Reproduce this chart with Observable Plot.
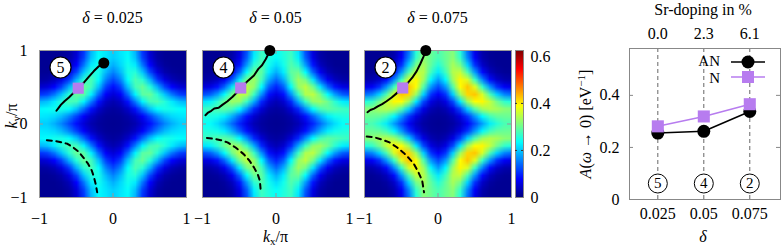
<!DOCTYPE html>
<html><head><meta charset="utf-8">
<script src="https://cdn.jsdelivr.net/npm/d3@7"></script>
<script src="https://cdn.jsdelivr.net/npm/@observablehq/plot@0.6"></script>
<style>
body{margin:0;background:#fff;}
#root{position:relative;width:782px;height:250px;overflow:hidden;font-family:"Liberation Serif",serif;font-size:16px;color:#000;background:#fff;}
#root svg{position:absolute;}
.lbl{position:absolute;transform:translate(-50%,-50%);white-space:nowrap;line-height:1;}
.rot{transform:translate(-50%,-50%) rotate(-90deg);}
sub{font-size:11px;vertical-align:-3px;line-height:0;}
sup{font-size:11px;vertical-align:6px;line-height:0;}
</style></head><body><div id="root"></div>
<script>
// ---------- data ----------
const deltas = [0.025, 0.05, 0.075];
const deltaLabels = ["0.025", "0.05", "0.075"];
const srDoping = ["0.0", "2.3", "6.1"];
const aAN = [0.255, 0.262, 0.338];
const aN = [0.281, 0.319, 0.366];
const circled = [5, 4, 2];
const kTicks = [-1, 0, 1];
const cbTicks = [0, 0.2, 0.4, 0.6];
const aTicks = [0, 0.2, 0.4];
const innerTick = [0];

// spectral weight A(k, w->0) read on the quadrant |kx|,|ky| = 0, 0.1, ..., 1 (rows |ky|, cols |kx|)
const quad025 = [
 [.012,.014,.018,.030,.053,.085,.121,.157,.185,.204,.204],
 [.014,.016,.025,.044,.075,.117,.159,.191,.211,.218,.221],
 [.018,.025,.046,.087,.143,.198,.235,.248,.244,.236,.231],
 [.030,.044,.087,.156,.228,.274,.281,.257,.222,.196,.187],
 [.053,.075,.143,.228,.289,.297,.258,.200,.150,.118,.108],
 [.085,.117,.198,.274,.297,.257,.186,.121,.078,.055,.048],
 [.121,.159,.235,.281,.258,.186,.111,.061,.035,.024,.021],
 [.157,.191,.248,.257,.200,.121,.061,.030,.018,.014,.014],
 [.185,.211,.244,.222,.150,.078,.035,.018,.013,.012,.012],
 [.204,.218,.236,.196,.118,.055,.024,.014,.012,.012,.012],
 [.204,.221,.231,.187,.108,.048,.021,.014,.012,.012,.012]
];
const quad05 = [
 [.012,.014,.020,.033,.060,.098,.141,.183,.214,.236,.236],
 [.014,.017,.027,.050,.087,.136,.185,.223,.245,.252,.256],
 [.020,.027,.053,.101,.167,.233,.276,.291,.284,.274,.268],
 [.033,.050,.101,.183,.269,.324,.331,.301,.259,.226,.216],
 [.060,.087,.167,.269,.341,.351,.304,.235,.174,.136,.124],
 [.098,.136,.233,.324,.351,.304,.219,.141,.089,.062,.054],
 [.141,.185,.276,.331,.304,.219,.130,.070,.039,.026,.023],
 [.183,.223,.291,.301,.235,.141,.070,.034,.020,.015,.014],
 [.214,.245,.284,.259,.174,.089,.039,.020,.013,.012,.012],
 [.236,.252,.274,.226,.136,.062,.026,.015,.012,.012,.012],
 [.236,.256,.268,.216,.124,.054,.023,.014,.012,.012,.012]
];
const quad075 = [
 [.012,.015,.022,.040,.074,.122,.173,.222,.256,.279,.278],
 [.015,.018,.032,.061,.109,.171,.230,.273,.294,.298,.301],
 [.022,.032,.062,.122,.205,.285,.332,.345,.336,.320,.315],
 [.040,.061,.122,.222,.330,.390,.395,.355,.305,.265,.253],
 [.074,.109,.205,.330,.415,.425,.367,.283,.207,.160,.145],
 [.122,.171,.285,.390,.425,.370,.268,.172,.107,.073,.062],
 [.173,.230,.332,.395,.367,.268,.160,.085,.046,.029,.025],
 [.222,.273,.345,.355,.283,.172,.085,.040,.022,.015,.014],
 [.256,.294,.336,.305,.207,.107,.046,.022,.014,.012,.012],
 [.279,.298,.320,.265,.160,.073,.029,.015,.012,.012,.012],
 [.278,.301,.315,.253,.145,.062,.025,.014,.012,.012,.012]
];

// solid cut lines [kx, ky]
const cut025 = [[-0.77,0.18],[-0.74,0.22],[-0.71,0.26],[-0.66,0.31],[-0.60,0.36],[-0.53,0.43],[-0.47,0.49],[-0.40,0.56],[-0.33,0.64],[-0.26,0.72],[-0.20,0.78],[-0.15,0.81],[-0.125,0.83]];
const cut05 = [[-0.96,0.12],[-0.93,0.15],[-0.88,0.18],[-0.84,0.21],[-0.78,0.22],[-0.73,0.26],[-0.66,0.31],[-0.59,0.37],[-0.52,0.44],[-0.45,0.52],[-0.38,0.59],[-0.30,0.66],[-0.24,0.75],[-0.19,0.80],[-0.14,0.88],[-0.11,0.94],[-0.084,1.0]];
const cut075 = [[-0.96,0.16],[-0.92,0.19],[-0.87,0.21],[-0.82,0.24],[-0.76,0.27],[-0.70,0.31],[-0.63,0.36],[-0.56,0.42],[-0.48,0.49],[-0.41,0.56],[-0.35,0.63],[-0.29,0.72],[-0.24,0.82],[-0.20,0.91],[-0.166,1.0]];
// dashed arcs [kx, ky]
const arc025 = [[-0.90,-0.22],[-0.80,-0.23],[-0.70,-0.25],[-0.62,-0.27],[-0.54,-0.32],[-0.465,-0.38],[-0.40,-0.46],[-0.34,-0.54],[-0.29,-0.63],[-0.26,-0.72],[-0.235,-0.82],[-0.215,-0.93]];
const arc05 = [[-0.94,-0.19],[-0.85,-0.20],[-0.75,-0.22],[-0.66,-0.25],[-0.55,-0.32],[-0.44,-0.41],[-0.36,-0.50],[-0.30,-0.59],[-0.25,-0.68],[-0.22,-0.77],[-0.21,-0.88]];
const arc075 = [[-0.97,-0.17],[-0.87,-0.18],[-0.77,-0.21],[-0.66,-0.25],[-0.555,-0.32],[-0.47,-0.39],[-0.40,-0.46],[-0.33,-0.54],[-0.27,-0.65],[-0.215,-0.77],[-0.19,-0.93]];
// antinode (dot) and node (square) points [kx, ky]
const antinodes = [[-0.125,0.83],[-0.084,1.0],[-0.166,1.0]];
const nodes = [[-0.473,0.487],[-0.48,0.49],[-0.48,0.49]];

// ---------- styles ----------
const purple = "#b77cef";
const colorScale = {type:"linear", domain:[0,0.078,0.234,0.391,0.547,0.625],
  range:["#00007f","#0000ff","#00ffff","#ffff00","#ff0000","#7f0000"], clamp:true};
const baseStyle = {background:"transparent", overflow:"visible", fontFamily:"'Liberation Serif', serif", fontSize:"16px", color:"black"};
const fmt = d => d < 0 ? "\u2212" + (-d) : String(d);

const root = document.getElementById("root");
function place(svg, left, top) { svg.style.left = left + "px"; svg.style.top = top + "px"; root.appendChild(svg); }
function label(html, x, y, rot) {
  const d = document.createElement("div");
  d.className = "lbl" + (rot ? " rot" : "");
  d.style.left = x + "px"; d.style.top = y + "px"; d.innerHTML = html; root.appendChild(d);
}

function heatPanel(quad, cut, arc, antinode, node, num, showY) {
  const n = quad.length, N = 2 * n - 1, step = 1 / (n - 1), ext = 1 + step / 2;
  const flat = [];
  for (let j = 0; j < N; j++) for (let i = 0; i < N; i++)
    flat.push(quad[Math.abs(j - (n - 1))][Math.abs(i - (n - 1))]);
  return Plot.plot({
    width: 187, height: 183, marginLeft: 30, marginRight: 10, marginTop: 6, marginBottom: 30,
    style: baseStyle,
    x: {domain: [-1, 1], ticks: kTicks, tickSize: 0, tickPadding: 15, tickFormat: fmt, label: null},
    y: showY ? {domain: [-1, 1], ticks: kTicks, tickSize: 0, tickPadding: 12, tickFormat: fmt, label: null}
             : {domain: [-1, 1], axis: null},
    color: colorScale,
    marks: [
      Plot.raster(flat, {width: N, height: N, x1: -ext, x2: ext, y1: -ext, y2: ext, fill: Plot.identity, clip: true}),
      Plot.frame({stroke: "#999"}),
      Plot.ruleX(innerTick, {insetBottom: 143, stroke: "#999"}),
      Plot.ruleX(innerTick, {insetTop: 143, stroke: "#999"}),
      Plot.ruleY(innerTick, {insetRight: 143, stroke: "#999"}),
      Plot.ruleY(innerTick, {insetLeft: 143, stroke: "#999"}),
      Plot.line(arc, {stroke: "black", strokeWidth: 2, strokeDasharray: "5,4.5"}),
      Plot.line(cut, {stroke: "black", strokeWidth: 2}),
      Plot.dot([node], {symbol: "square", r: 6.3, fill: purple}),
      Plot.dot([antinode], {r: 5.5, fill: "black"}),
      Plot.dot([num], {frameAnchor: "top-left", dx: 21, dy: 17, r: 10.5, fill: "white", stroke: "black", strokeWidth: 1.2}),
      Plot.text([num], {frameAnchor: "top-left", dx: 21, dy: 17, text: d => d, fontSize: 16, textAnchor: "middle", lineAnchor: "middle"})
    ]
  });
}

const quads = [quad025, quad05, quad075];
const cuts = [cut025, cut05, cut075];
const arcs = [arc025, arc05, arc075];
const frameLefts = [39, 202, 364];
quads.forEach((q, i) => {
  place(heatPanel(q, cuts[i], arcs[i], antinodes[i], nodes[i], circled[i], i === 0), frameLefts[i] - 30, 44);
  label(`<i>δ</i> = ${deltaLabels[i]}`, frameLefts[i] + 73.5, 18);
});

// colour bar
place(Plot.plot({
  width: 50, height: 183, marginLeft: 2, marginRight: 40, marginTop: 6, marginBottom: 30,
  style: baseStyle,
  x: {domain: [0, 1], axis: null},
  y: {domain: [0, 0.625], axis: "right", ticks: cbTicks, tickSize: 0, tickPadding: 7, tickFormat: d => String(d), label: null},
  color: colorScale,
  marks: [
    Plot.raster({fill: (x, y) => y, x1: 0, x2: 1, y1: 0, y2: 0.625}),
    Plot.frame({stroke: "#888"}),
    Plot.ruleY(cbTicks.slice(1, 3), {insetRight: 6, stroke: "#333"}),
    Plot.ruleY(cbTicks.slice(1, 3), {insetLeft: 6, stroke: "#333"})
  ]
}), 513, 44);

// right chart
const rows = deltas.map((d, i) => ({delta: d, an: aAN[i], n: aN[i], lab: circled[i]}));
place(Plot.plot({
  width: 213, height: 235, marginLeft: 60, marginRight: 2, marginTop: 44, marginBottom: 40,
  style: baseStyle,
  x: {domain: [0.0096, 0.0917], axis: null},
  y: {domain: [0, 0.58], axis: null},
  marks: [
    Plot.ruleX(deltas, {stroke: "#666", strokeDasharray: "4,3"}),
    Plot.frame({stroke: "#888"}),
    Plot.ruleY(aTicks.slice(1), {insetRight: 147, stroke: "#888"}),
    Plot.ruleY(aTicks.slice(1), {insetLeft: 147, stroke: "#888"}),
    Plot.line(rows, {x: "delta", y: "an", stroke: "black", strokeWidth: 1.5}),
    Plot.dot(rows, {x: "delta", y: "an", r: 6.5, fill: "black"}),
    Plot.line(rows, {x: "delta", y: "n", stroke: purple, strokeWidth: 1.5}),
    Plot.dot(rows, {x: "delta", y: "n", symbol: "square", r: 6.8, fill: purple}),
    Plot.dot(rows, {x: "delta", frameAnchor: "bottom", dy: -16, r: 9.5, fill: "white", stroke: "black", strokeWidth: 1}),
    Plot.text(rows, {x: "delta", frameAnchor: "bottom", dy: -16, text: "lab", fontSize: 15, textAnchor: "middle", lineAnchor: "middle"}),
    Plot.axisX(deltas, {anchor: "bottom", tickSize: 0, tickPadding: 8, tickFormat: d => deltaLabels[deltas.indexOf(d)], label: null}),
    Plot.axisX(deltas, {anchor: "top", tickSize: 0, tickPadding: 10, tickFormat: d => srDoping[deltas.indexOf(d)], label: null}),
    Plot.axisY(aTicks, {anchor: "left", tickSize: 0, tickPadding: 10, tickFormat: d => String(d), label: null})
  ]
}), 569, 4);

// legend (inline)
const ns = "http://www.w3.org/2000/svg";
const leg = document.createElementNS(ns, "svg");
leg.setAttribute("width", 782); leg.setAttribute("height", 250);
leg.style.left = "0px"; leg.style.top = "0px"; leg.style.pointerEvents = "none";
leg.innerHTML = `
<g font-family="Liberation Serif, serif" font-size="15">
<text x="720" y="61" text-anchor="end" dy="0.35em">AN</text>
<line x1="731" x2="765" y1="62" y2="62" stroke="black" stroke-width="1.5"/>
<circle cx="748" cy="62" r="6.5" fill="black"/>
<text x="720" y="78" text-anchor="end" dy="0.35em">N</text>
<line x1="731" x2="765" y1="77" y2="77" stroke="${purple}" stroke-width="1.5"/>
<rect x="742" y="71" width="12" height="12" fill="${purple}"/>
</g>`;
root.appendChild(leg);

// axis titles
label(`<i>k</i><sub>x</sub>/π`, 275.5, 237);
label(`<i>k</i><sub>y</sub>/π`, 12, 116, true);
label(`Sr-doping in %`, 703, 10);
label(`<i>δ</i>`, 703, 237);
label(`<i>A</i>(<i>ω</i> → 0) [eV<sup>−1</sup>]`, 586, 124, true);
</script></body></html>
